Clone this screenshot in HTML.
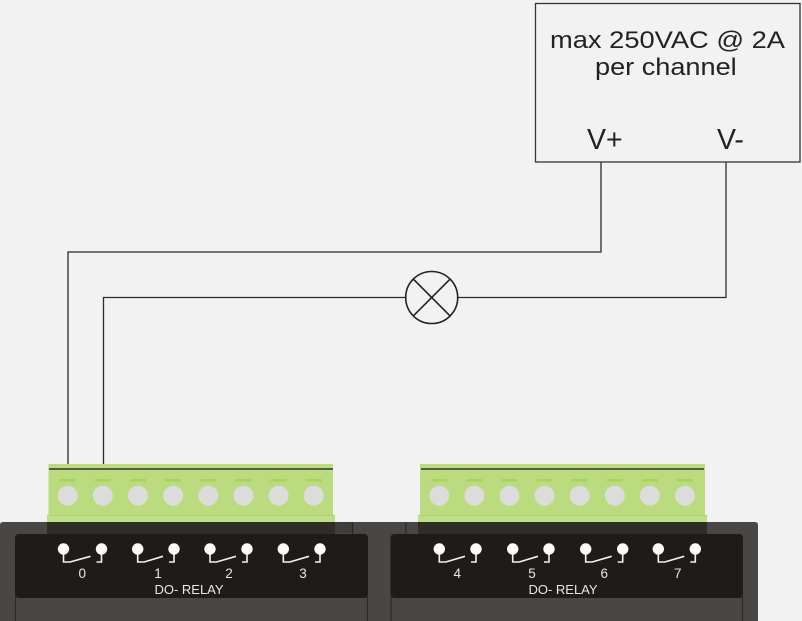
<!DOCTYPE html>
<html>
<head>
<meta charset="utf-8">
<style>
  html,body{margin:0;padding:0;background:#f2f2f2;}
  svg{display:block;}
  text{font-family:"Liberation Sans", Arial, sans-serif;}
</style>
</head>
<body>
<svg width="802" height="621" viewBox="0 0 802 621" xmlns="http://www.w3.org/2000/svg">
  <rect x="0" y="0" width="802" height="621" fill="#f2f2f2"/>

  <!-- Power supply box -->
  <rect x="535.5" y="3.5" width="264.5" height="158.5" fill="none" stroke="#333" stroke-width="1.3"/>
  <text x="550" y="48" font-size="24" fill="#222" textLength="235" lengthAdjust="spacingAndGlyphs">max 250VAC @ 2A</text>
  <text x="595" y="75" font-size="24" fill="#222" textLength="141.7" lengthAdjust="spacingAndGlyphs">per channel</text>
  <text x="587" y="149" font-size="28.5" fill="#222">V+</text>
  <text x="717" y="149" font-size="28.5" fill="#222">V-</text>

  <!-- Wires -->
  <g fill="none" stroke="#2a2a2a" stroke-width="1.3">
    <path d="M601,162 V252 H68 V464"/>
    <path d="M726,162 V297.5 H458"/>
    <path d="M405.5,297.5 H103.5 V464"/>
  </g>
  <!-- Lamp -->
  <g fill="none" stroke="#222" stroke-width="1.6">
    <circle cx="431.7" cy="297.5" r="26"/>
    <line x1="413.3" y1="279.1" x2="450.1" y2="315.9"/>
    <line x1="450.1" y1="279.1" x2="413.3" y2="315.9"/>
  </g>

  <!-- Housing -->
  <path d="M0,525 Q0,522 3,522 H755 Q758,522 758,525 V621 H0 Z" fill="#4a4644"/>
  <rect x="334" y="522" width="18" height="11" fill="#403c3a"/>
  <line x1="352.5" y1="522" x2="352.5" y2="534" stroke="#2a2725" stroke-width="1.2"/>
  <line x1="406" y1="522" x2="406" y2="534" stroke="#2a2725" stroke-width="1.2"/>

  <!-- Olive overlap of green blocks -->
  <rect x="47" y="522" width="288" height="12" fill="#2e2e26"/>
  <rect x="418" y="522" width="289" height="12" fill="#2e2e26"/>

  <!-- Panels -->
  <rect x="15" y="534" width="353" height="64" rx="4" fill="#1f1b18"/>
  <rect x="390.5" y="534" width="352.5" height="64" rx="4" fill="#1f1b18"/>
  <g stroke="#2c2927" stroke-width="1.2">
    <line x1="15.5" y1="596" x2="15.5" y2="621"/>
    <line x1="367.5" y1="596" x2="367.5" y2="621"/>
    <line x1="391" y1="596" x2="391" y2="621"/>
    <line x1="742.5" y1="596" x2="742.5" y2="621"/>
  </g>

  <!-- Green terminal block 1 -->
  <rect x="48.5" y="464" width="284.5" height="51" fill="#badb7e"/>
  <rect x="47" y="515" width="288" height="7" fill="#bfde88"/>
  <line x1="47" y1="515.5" x2="335" y2="515.5" stroke="#aed270" stroke-width="1"/>
  <line x1="49" y1="469" x2="333" y2="469" stroke="#333" stroke-width="1.4"/>
  <!-- Green terminal block 2 -->
  <rect x="420" y="464" width="285" height="51" fill="#badb7e"/>
  <rect x="418" y="515" width="289" height="7" fill="#bfde88"/>
  <line x1="418" y1="515.5" x2="707" y2="515.5" stroke="#aed270" stroke-width="1"/>
  <line x1="421" y1="469" x2="704" y2="469" stroke="#333" stroke-width="1.4"/>

  <!-- dashes and screw circles -->
  <g fill="#a6d45c">
    <rect x="59.7" y="479" width="16" height="2.5"/>
    <rect x="94.8" y="479" width="16" height="2.5"/>
    <rect x="130" y="479" width="16" height="2.5"/>
    <rect x="165.1" y="479" width="16" height="2.5"/>
    <rect x="200.3" y="479" width="16" height="2.5"/>
    <rect x="235.4" y="479" width="16" height="2.5"/>
    <rect x="270.6" y="479" width="16" height="2.5"/>
    <rect x="305.7" y="479" width="16" height="2.5"/>
    <rect x="431.3" y="479" width="16" height="2.5"/>
    <rect x="466.4" y="479" width="16" height="2.5"/>
    <rect x="501.5" y="479" width="16" height="2.5"/>
    <rect x="536.6" y="479" width="16" height="2.5"/>
    <rect x="571.7" y="479" width="16" height="2.5"/>
    <rect x="606.8" y="479" width="16" height="2.5"/>
    <rect x="641.9" y="479" width="16" height="2.5"/>
    <rect x="677" y="479" width="16" height="2.5"/>
  </g>
  <g fill="#dcdcdc">
    <circle cx="67.7" cy="495.7" r="10"/>
    <circle cx="102.8" cy="495.7" r="10"/>
    <circle cx="138" cy="495.7" r="10"/>
    <circle cx="173.1" cy="495.7" r="10"/>
    <circle cx="208.3" cy="495.7" r="10"/>
    <circle cx="243.4" cy="495.7" r="10"/>
    <circle cx="278.6" cy="495.7" r="10"/>
    <circle cx="313.7" cy="495.7" r="10"/>
    <circle cx="439.3" cy="495.7" r="10"/>
    <circle cx="474.4" cy="495.7" r="10"/>
    <circle cx="509.5" cy="495.7" r="10"/>
    <circle cx="544.6" cy="495.7" r="10"/>
    <circle cx="579.7" cy="495.7" r="10"/>
    <circle cx="614.8" cy="495.7" r="10"/>
    <circle cx="649.9" cy="495.7" r="10"/>
    <circle cx="685" cy="495.7" r="10"/>
  </g>

  <!-- Relay symbols -->
  <g stroke="#f2f2f2" stroke-width="1.6" fill="none">
    <path d="M63.5,549 V562 H70 L90.5,556.3 M96.5,562 H101.5 V549"/>
    <path d="M137.7,549 V562 H144.2 L163,556.3 M169,562 H174 V549"/>
    <path d="M210,549 V562 H216.5 L236,556.3 M242,562 H247 V549"/>
    <path d="M283.3,549 V562 H289.8 L309,556.3 M315,562 H320 V549"/>
    <path d="M439.3,549 V562 H445.8 L465,556.3 M471,562 H476 V549"/>
    <path d="M512.7,549 V562 H519.2 L538,556.3 M544,562 H549 V549"/>
    <path d="M585.7,549 V562 H592.2 L611.7,556.3 M617.7,562 H622.7 V549"/>
    <path d="M658.3,549 V562 H664.8 L684.3,556.3 M690.3,562 H695.3 V549"/>
  </g>
  <g fill="#ffffff">
    <circle cx="63.5" cy="549" r="5.7"/><circle cx="101.5" cy="549" r="5.7"/>
    <circle cx="137.7" cy="549" r="5.7"/><circle cx="174" cy="549" r="5.7"/>
    <circle cx="210" cy="549" r="5.7"/><circle cx="247" cy="549" r="5.7"/>
    <circle cx="283.3" cy="549" r="5.7"/><circle cx="320" cy="549" r="5.7"/>
    <circle cx="439.3" cy="549" r="5.7"/><circle cx="476" cy="549" r="5.7"/>
    <circle cx="512.7" cy="549" r="5.7"/><circle cx="549" cy="549" r="5.7"/>
    <circle cx="585.7" cy="549" r="5.7"/><circle cx="622.7" cy="549" r="5.7"/>
    <circle cx="658.3" cy="549" r="5.7"/><circle cx="695.3" cy="549" r="5.7"/>
  </g>

  <!-- Labels -->
  <g fill="#e8e8e8" font-size="13.5" text-anchor="middle">
    <text x="82.3" y="578">0</text>
    <text x="158" y="578">1</text>
    <text x="229" y="578">2</text>
    <text x="303" y="578">3</text>
    <text x="457.3" y="578">4</text>
    <text x="532" y="578">5</text>
    <text x="604.3" y="578">6</text>
    <text x="677.7" y="578">7</text>
  </g>
  <g fill="#e8e8e8" font-size="13" text-anchor="middle">
    <text x="189" y="594">DO- RELAY</text>
    <text x="563" y="594">DO- RELAY</text>
  </g>
</svg>
</body>
</html>
